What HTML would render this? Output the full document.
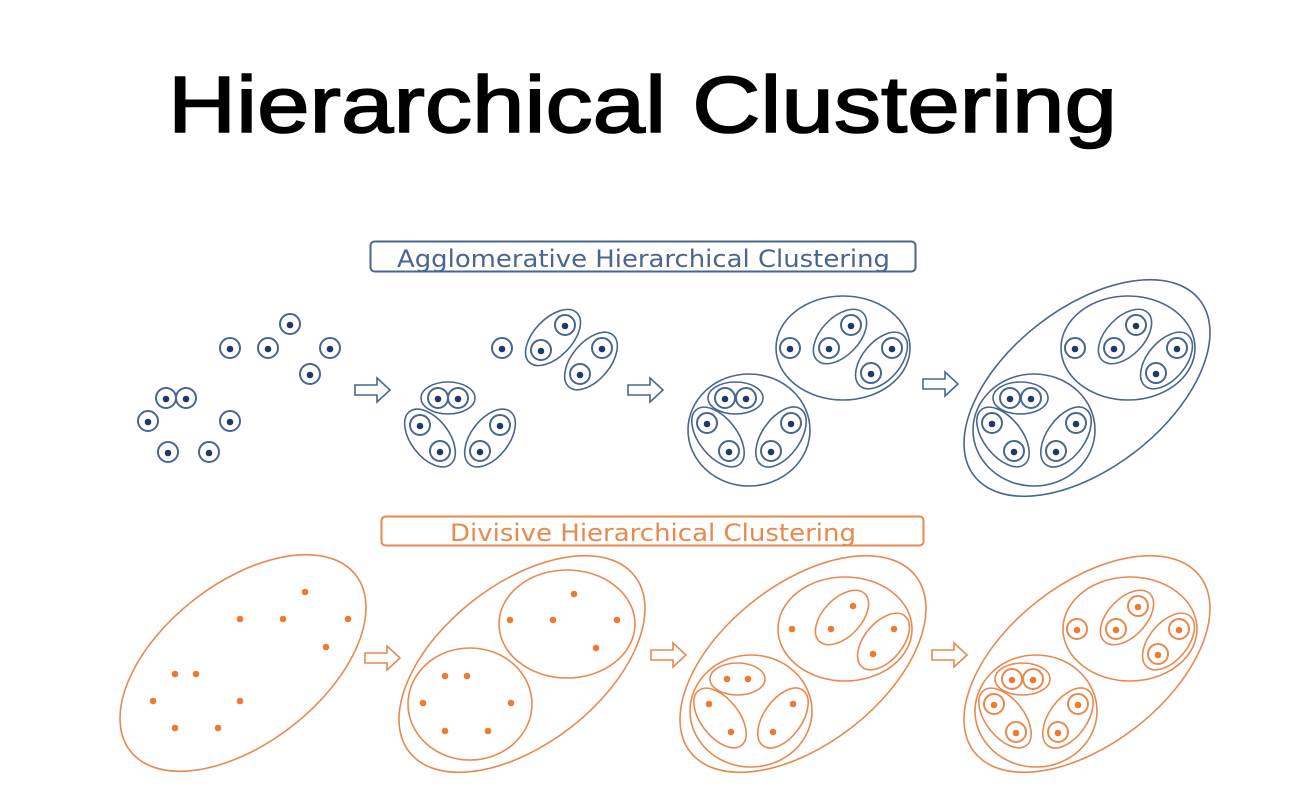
<!DOCTYPE html>
<html><head><meta charset="utf-8"><style>
html,body{margin:0;padding:0;background:#fff;width:1308px;height:801px;overflow:hidden}
</style></head><body>
<svg id="s" width="1308" height="801" viewBox="0 0 1308 801" xmlns="http://www.w3.org/2000/svg">
<text x="168" y="132" font-family="Liberation Sans, sans-serif" font-size="80" fill="#000" stroke="#000" stroke-width="1.6" textLength="949" lengthAdjust="spacingAndGlyphs">Hierarchical Clustering</text>
<rect x="370.5" y="241.5" width="545" height="30" rx="4" fill="none" stroke="#4a6590" stroke-width="2"/>
<text x="397" y="267" font-family="DejaVu Sans, sans-serif" font-size="24" fill="#4a6590" textLength="493" lengthAdjust="spacingAndGlyphs">Agglomerative Hierarchical Clustering</text>
<rect x="381.5" y="516.5" width="542" height="29" rx="4" fill="none" stroke="#e8894f" stroke-width="2"/>
<text x="450" y="541" font-family="DejaVu Sans, sans-serif" font-size="24" fill="#e8894f" textLength="406" lengthAdjust="spacingAndGlyphs">Divisive Hierarchical Clustering</text>
<g id="g"></g>
</svg>
<script>
var g=document.getElementById('g'),NS='http://www.w3.org/2000/svg';
function el(t,a){var e=document.createElementNS(NS,t);for(var k in a)e.setAttribute(k,a[k]);g.appendChild(e);return e;}
var B='#4a6590',BD='#1f3a66',O='#e8894f',OD='#ec7a33';
function pt(x,y,c,d,circ){if(circ)el('circle',{cx:x,cy:y,r:10,fill:'none',stroke:c,'stroke-width':2});el('circle',{cx:x,cy:y+(circ?1:0),r:3.3,fill:d});}
function ell(cx,cy,rx,ry,rot,c){el('ellipse',{cx:cx,cy:cy,rx:rx,ry:ry,transform:'rotate('+rot+' '+cx+' '+cy+')',fill:'none',stroke:c,'stroke-width':1.6});}
function pair(a,b,c){var cx=(a[0]+b[0])/2,cy=(a[1]+b[1])/2,dx=b[0]-a[0],dy=b[1]-a[1],d=Math.sqrt(dx*dx+dy*dy);ell(cx,cy,d/2+17,d<25?16:19,Math.atan2(dy,dx)*180/Math.PI,c);}
function arrow(x,y,c){el('path',{d:'M'+x+' '+(y-5)+'h22v-7l13 12l-13 12v-7h-22z',fill:'#fff',stroke:c,'stroke-width':1.6});}
function layout(ox,oy){return {s:[ox-53,oy],a:[ox-14,oy],b:[ox+8,oy-23],c:[ox+28,oy+25],d:[ox+49,oy],
 e:[ox-118,oy+50],f:[ox-97,oy+50],g:[ox-136,oy+75],h:[ox-114,oy+103],i:[ox-72,oy+103],j:[ox-52,oy+75]};}
function draw(L,c,d,circ){
 ['s','a','b','c','d','e','f','g','h','i','j'].forEach(function(k){pt(L[k][0],L[k][1],c,d,circ);});
 pair(L.a,L.b,c);pair(L.c,L.d,c);pair(L.e,L.f,c);pair(L.g,L.h,c);pair(L.i,L.j,c);
 ell((L.s[0]+L.d[0])/2+2,L.s[1],67,52,0,c);ell(L.e[0]+24,L.e[1]+32,61,56,0,c);
}
function outer(cx,cy,c){ell(cx,cy,143,80,-38,c);}
// ===== Blue row =====
[[290,324],[230,348],[268,348],[330,348],[310,374],[166,398],[186,398],[148,421],[230,421],[168,452],[209,452]].forEach(function(p){pt(p[0],p[1],B,BD,true);});
var L2={s:[502,348],a:[541,350],b:[565,325],c:[580,374],d:[602,348],e:[438,398],f:[458,398],g:[420,425],h:[440,451],i:[480,451],j:[500,425]};
['s','a','b','c','d','e','f','g','h','i','j'].forEach(function(k){pt(L2[k][0],L2[k][1],B,BD,true);});
pair(L2.a,L2.b,B);pair(L2.c,L2.d,B);pair(L2.e,L2.f,B);pair(L2.g,L2.h,B);pair(L2.i,L2.j,B);
draw(layout(843,348),B,BD,true);
draw(layout(1128,348),B,BD,true);
outer(1087,388,B);
arrow(355,390,B);arrow(628,390,B);arrow(923,384,B);
// ===== Orange row =====
[[305,592],[240,619],[283,619],[348,619],[326,647],[175,674],[196,674],[153,701],[240,701],[175,728],[218,728]].forEach(function(p){pt(p[0],p[1],O,OD,false);});
outer(243,663,O);
[[574,594],[510,620],[553,620],[617,620],[596,648],[445,676],[467,676],[423,703],[511,703],[445,731],[488,731]].forEach(function(p){pt(p[0],p[1],O,OD,false);});
ell(567,624,68,54,0,O);ell(470,704,62,56,0,O);outer(522,664,O);
draw(layout(845,629),O,OD,false);
outer(803,664,O);
draw(layout(1130,629),O,OD,true);
outer(1087,664,O);
arrow(365,658,O);arrow(651,655,O);arrow(932,655,O);
</script>
</body></html>
